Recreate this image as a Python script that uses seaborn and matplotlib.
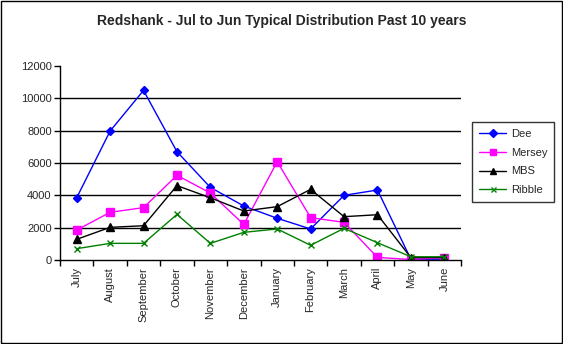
import matplotlib
matplotlib.use("Agg")
import matplotlib.pyplot as plt
import seaborn as sns
import pandas as pd
import numpy as np
from matplotlib.patches import Rectangle

months = ["July", "August", "September", "October", "November", "December",
          "January", "February", "March", "April", "May", "June"]
dee = [3850, 7980, 10490, 6700, 4490, 3340, 2580, 1920, 4000, 4330, 50, 50]
mersey = [1850, 2950, 3240, 5240, 4140, 2200, 6080, 2620, 2330, 160, 30, 150]
mbs = [1280, 2020, 2120, 4600, 3850, 3030, 3300, 4370, 2680, 2800, 150, 150]
ribble = [700, 1030, 1030, 2820, 1030, 1710, 1920, 910, 1960, 1070, 200, 200]
series_names = ["Dee", "Mersey", "MBS", "Ribble"]
yticks = [0, 2000, 4000, 6000, 8000, 10000, 12000]

rows = []
for name, vals in zip(series_names, [dee, mersey, mbs, ribble]):
    for i, v in enumerate(vals):
        rows.append({"pos": i, "Month": months[i], "Series": name, "Value": v})
df = pd.DataFrame(rows)

sns.set_theme(style="white")
plt.rcParams["font.family"] = ["Liberation Sans", "DejaVu Sans"]

fig = plt.figure(figsize=(5.63, 3.44), dpi=100)
ax = fig.add_axes([60/563, 1-260/344, (461-60)/563, (260-66)/344])

palette = {"Dee": "#0000FF", "Mersey": "#FF00FF", "MBS": "#000000", "Ribble": "#008000"}
markers = {"Dee": "D", "Mersey": "s", "MBS": "^", "Ribble": "x"}
sizes_m = {"Dee": 4.5, "Mersey": 5.5, "MBS": 6, "Ribble": 4.5}

for name in series_names:
    sub = df[df["Series"] == name]
    sns.lineplot(data=sub, x="pos", y="Value", ax=ax, color=palette[name],
                 marker=markers[name], markersize=sizes_m[name],
                 markeredgecolor=palette[name], markerfacecolor=palette[name],
                 markeredgewidth=1.0, linewidth=1.0, label=name)

ax.set_xlim(-0.5, 11.5)
ax.set_ylim(0, 12000)
ax.set_yticks(yticks)
ax.set_yticklabels([str(t) for t in yticks], fontsize=8)
for t in yticks[1:-1]:
    ax.axhline(t, color="black", linewidth=1.0, zorder=0)

ax.set_xticks(range(len(months)))
ax.set_xticklabels(months, rotation=90, fontsize=8)
ax.set_xticks(np.arange(-0.5, 12, 1), minor=True)
ax.tick_params(axis="x", which="major", length=0, pad=5)
ax.tick_params(axis="x", which="minor", length=4, width=1, color="black", direction="out", bottom=True)
ax.tick_params(axis="y", which="major", length=4, width=1, color="black", direction="out", left=True, pad=2)
ax.set_xlabel("")
ax.set_ylabel("")
for s in ["top", "right"]:
    ax.spines[s].set_visible(False)
for s in ["left", "bottom"]:
    ax.spines[s].set_color("black")
    ax.spines[s].set_linewidth(1.0)
ax.grid(False)

leg = ax.legend(loc="upper left", bbox_to_anchor=(472/563, 1-122/344),
                bbox_transform=fig.transFigure, frameon=True, fancybox=False,
                fontsize=8, handlelength=2.5, borderpad=0.6, labelspacing=0.8,
                handletextpad=0.4, borderaxespad=0, markerscale=0.8)
leg.get_frame().set_edgecolor("black")
leg.get_frame().set_linewidth(1.0)

fig.text(0.5, 1-21/344, "Redshank - Jul to Jun Typical Distribution Past 10 years",
         ha="center", va="center", fontsize=10, fontweight="bold")

fig.add_artist(Rectangle((0.001, 0.002), 0.997, 0.995, transform=fig.transFigure,
                         fill=False, edgecolor="black", linewidth=1.0))

fig.savefig("out.png", dpi=100)
